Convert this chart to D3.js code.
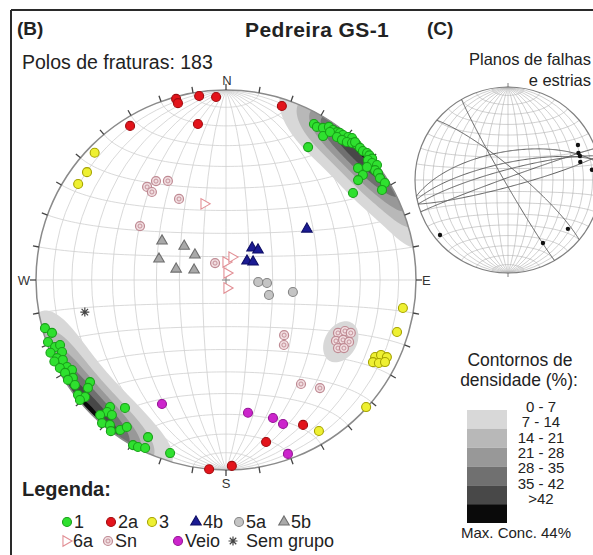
<!DOCTYPE html>
<html>
<head>
<meta charset="utf-8">
<script src="https://cdn.jsdelivr.net/npm/d3@7"></script>
<style>
  html, body { margin: 0; padding: 0; background: #fff; }
  svg { display: block; font-family: "Liberation Sans", Arial, Helvetica, sans-serif; }
</style>
</head>
<body>
<svg id="chart" width="593" height="555"></svg>
<script>
// ---------- Data: poles to fractures, [trend, plunge] in degrees ----------
const poles1 = [
  [29.4,6.4],[30.7,7.0],[32.5,5.7],[33.9,3.3],[35.5,3.4],[36.9,3.0],[37.8,2.4],[38.9,2.2],[40.5,1.2],[41.6,0.1],
  [34.0,9.5],[35.1,5.4],[37.8,5.3],[39.6,4.8],[41.2,3.9],[42.6,2.3],[44.1,1.1],[43.1,0.7],[45.4,1.1],[46.7,1.1],
  [48.0,0.1],[49.0,0.0],[50.3,0.0],[49.8,2.5],[51.3,1.7],[52.7,0.1],[53.6,2.9],[54.9,2.5],[56.5,3.2],[58.6,2.3],
  [60.0,5.8],[49.7,9.8],[52.5,10.1],[52.9,13.9],[51.3,5.5],[31.7,18.9],[55.6,20.1],
  [255.1,1.6],[253.1,4.8],[250.8,0.9],[248.6,3.8],[248.6,6.9],[246.3,6.4],[247.5,0.0],[245.2,2.3],[243.9,4.9],[244.6,0.0],
  [241.3,5.2],[242.1,1.2],[239.7,6.8],[240.0,2.5],[237.4,4.9],[237.7,1.8],[235.2,3.6],[233.1,11.5],[232.0,8.6],[232.2,1.6],
  [230.3,4.1],[230.6,0.6],[222.4,10.4],[218.3,15.3],[222.0,7.2],[223.0,3.2],[220.2,7.7],[220.9,0.4],[218.7,2.6],[217.3,0.0],
  [215.2,3.8],[214.0,7.4],[206.4,8.5],[209.4,0.3],[207.8,0.7],[205.7,2.1],[197.9,4.8]
];
const poles2a = [[344.6,1.3],[344.8,4.0],[351.7,2.4],[356.9,4.0],[17.8,4.3],[328.1,5.0],[349.8,17.7],
  [185.1,0.0],[178.2,2.4],[166.1,13.2],[152.0,14.7]];
const poles3 = [[314.1,4.2],[307.8,8.2],[303.0,8.0],[99.0,6.4],[106.9,6.6],[117.3,12.7],[115.8,10.3],
  [115.6,6.8],[119.2,12.4],[118.5,9.3],[117.3,6.5],[132.2,0.5],[148.4,7.4]];
const poles4b = [[39.1,72.3],[46.8,71.2],[47.9,77.9],[56.3,76.1],[57.8,48.3]];
const poles5a = [[93.6,76.2],[94.2,72.4],[109.2,70.5],[100.2,60.7]];
const poles5b = [[301.4,57.6],[309.0,66.9],[287.4,59.7],[308.9,72.9],[282.4,68.1],[287.4,75.7]];
const poles6a = [[343.9,55.7],[0.0,82.3],[14.6,79.9],[8.0,87.0],[173.0,86.6]];
const polesSn = [[319.7,36.0],[324.7,36.4],[329.6,39.4],[319.9,39.3],[329.9,49.2],[302.1,45.6],[327.1,81.4],
  [133.5,55.3],[138.3,52.2],[144.2,33.0],[139.0,25.6],
  [115.3,35.1],[113.2,32.4],[113.0,29.4],[119.0,34.2],[117.1,31.4],[116.7,28.3],[121.3,31.6],[120.0,29.1]];
const polesVeio = [[207.3,27.4],[170.6,29.9],[161.2,24.3],[158.4,19.6],[160.4,3.2]];
const polesSemGrupo = [[257.2,24.8]];

// Fault planes [dip direction, dip] and striae [trend, plunge]
const faultPlanes = [[240,87],[40,80],[350,65],[348,75],[345,81],[340,88],[165,84]];
const striae = [[63.4,17],[69,20],[71.6,19.6],[76,21],[83,10],[129.2,18],[151,23.5],[231,6.6]];

// Density contour classes (percent)
const densityThresholds = [7, 14, 21, 28, 35, 42];
const densityLabels = ["0 - 7", "7 - 14", "14 - 21", "21 - 28", "28 - 35", "35 - 42", ">42"];
const maxConcentration = 44;

const legendRow1 = ["1", "2a", "3", "4b", "5a", "5b"];
const legendRow2 = ["6a", "Sn", "Veio", "Sem grupo"];

// ---------- Setup ----------
const svg = d3.select("#chart");
const rad = Math.PI / 180;

const groupData = {
  "1": poles1, "2a": poles2a, "3": poles3, "4b": poles4b, "5a": poles5a,
  "5b": poles5b, "6a": poles6a, "Sn": polesSn, "Veio": polesVeio, "Sem grupo": polesSemGrupo
};
const styles = {
  "1":    { shape: "circle", fill: "#2fe02f", stroke: "#19a019" },
  "2a":   { shape: "circle", fill: "#e3141b", stroke: "#a10c10" },
  "3":    { shape: "circle", fill: "#eef032", stroke: "#a6a300" },
  "4b":   { shape: "tri",    fill: "#1b1b93", stroke: "#0e0e66" },
  "5a":   { shape: "circle", fill: "#c4c4c4", stroke: "#858585" },
  "5b":   { shape: "tri",    fill: "#a9a9a9", stroke: "#6f6f6f" },
  "6a":   { shape: "triR",   fill: "#ffffff", stroke: "#e28f95" },
  "Sn":   { shape: "ring",   fill: "#f1dde0", stroke: "#bf8a93" },
  "Veio": { shape: "circle", fill: "#cc25cc", stroke: "#951595" },
  "Sem grupo": { shape: "star", fill: "none", stroke: "#444" }
};

// lower-hemisphere line -> lon/lat on a sphere whose (0,0) is the nadir
function lineToGeo([trend, plunge]) {
  const t = trend * rad, p = plunge * rad;
  const e = Math.cos(p) * Math.sin(t), n = Math.cos(p) * Math.cos(t), d = Math.sin(p);
  return [Math.atan2(e, d) / rad, Math.asin(Math.max(-1, Math.min(1, n))) / rad];
}
function lineToVec([trend, plunge]) {
  const t = trend * rad, p = plunge * rad;
  return [Math.cos(p) * Math.sin(t), Math.cos(p) * Math.cos(t), Math.sin(p)];
}
function geoToVec([lon, lat]) {
  const l = lon * rad, f = lat * rad;
  return [Math.cos(f) * Math.sin(l), Math.sin(f), Math.cos(f) * Math.cos(l)];
}

// ---------- Frame ----------
svg.append("line").attr("x1", 11).attr("x2", 593).attr("y1", 10).attr("y2", 10)
  .attr("stroke", "#2a2a2a").attr("stroke-width", 2);
svg.append("line").attr("x1", 11).attr("x2", 11).attr("y1", 10).attr("y2", 555)
  .attr("stroke", "#2a2a2a").attr("stroke-width", 2);

// ---------- Main Schmidt net ----------
const net = { cx: 226, cy: 280, r: 190 };
const proj = d3.geoAzimuthalEqualArea()
  .scale(net.r / Math.SQRT2).translate([net.cx, net.cy]).clipAngle(90).precision(0.2);
const geoPath = d3.geoPath(proj);

const defs = svg.append("defs");
defs.append("clipPath").attr("id", "netClip")
  .append("circle").attr("cx", net.cx).attr("cy", net.cy).attr("r", net.r);

const graticule = d3.geoGraticule().extent([[-180, -90], [180, 90]]).step([10, 10]);
svg.append("path").datum(graticule())
  .attr("d", geoPath).attr("fill", "none").attr("stroke", "#cfcfcf").attr("stroke-width", 0.8);

// Density grid: axial Fisher kernel on the sphere, scaled to the maximum concentration
const densitySets = [poles1, polesSn];
const sigmaDeg = 10;
const kappa = 1 / Math.pow(sigmaDeg * rad, 2);
const densityVecs = densitySets.flat().map(lineToVec);
const step = 2.5, pad = 14;
const gx0 = net.cx - net.r - pad, gy0 = net.cy - net.r - pad;
const n = Math.ceil(2 * (net.r + pad) / step) + 1;
const grid = new Float64Array(n * n);
for (let j = 0; j < n; j++) {
  for (let i = 0; i < n; i++) {
    const g = proj.invert([gx0 + i * step, gy0 + j * step]);
    let s = 0;
    if (g && isFinite(g[0]) && isFinite(g[1])) {
      const v = geoToVec(g);
      for (const p of densityVecs) {
        const c = Math.abs(v[0] * p[0] + v[1] * p[1] + v[2] * p[2]);
        s += Math.exp(kappa * (c - 1));
      }
    }
    grid[j * n + i] = s;
  }
}
const gridMax = d3.max(grid);
const percent = Array.from(grid, v => v / gridMax * maxConcentration);
const contours = d3.contours().size([n, n]).thresholds(densityThresholds)(percent);
const gridPath = d3.geoPath(d3.geoTransform({
  point(x, y) { this.stream.point(gx0 + (x - 0.5) * step, gy0 + (y - 0.5) * step); }
}));
const bandColor = d3.scaleOrdinal().domain(densityThresholds)
  .range(["#d8d8d8", "#b8b8b8", "#989898", "#707070", "#484848", "#0a0a0a"]);
svg.append("g").attr("clip-path", "url(#netClip)")
  .selectAll("path").data(contours).join("path")
  .attr("d", gridPath).attr("fill", d => bandColor(d.value)).attr("stroke", "none");

// primitive circle and 10-degree ticks
svg.append("circle").attr("cx", net.cx).attr("cy", net.cy).attr("r", net.r)
  .attr("fill", "none").attr("stroke", "#8a8a8a").attr("stroke-width", 1.5);
svg.append("g").selectAll("line").data(d3.range(0, 360, 10)).join("line")
  .attr("x1", a => net.cx + net.r * Math.sin(a * rad))
  .attr("y1", a => net.cy - net.r * Math.cos(a * rad))
  .attr("x2", a => net.cx + (net.r + 6) * Math.sin(a * rad))
  .attr("y2", a => net.cy - (net.r + 6) * Math.cos(a * rad))
  .attr("stroke", "#444").attr("stroke-width", 1.3);

// centre cross
svg.append("path").attr("d", `M${net.cx - 4},${net.cy}H${net.cx + 4}M${net.cx},${net.cy - 4}V${net.cy + 4}`)
  .attr("stroke", "#888").attr("stroke-width", 1);

const cardinal = svg.append("g").attr("font-size", 13).attr("fill", "#333");
cardinal.append("text").attr("x", net.cx + 1).attr("y", net.cy - net.r - 5).attr("text-anchor", "middle").text("N");
cardinal.append("text").attr("x", net.cx).attr("y", net.cy + net.r + 18).attr("text-anchor", "middle").text("S");
cardinal.append("text").attr("x", net.cx - net.r - 6).attr("y", net.cy + 5).attr("text-anchor", "end").text("W");
cardinal.append("text").attr("x", net.cx + net.r + 6).attr("y", net.cy + 5).attr("text-anchor", "start").text("E");

// ---------- Markers ----------
const triSym = d3.symbol().type(d3.symbolTriangle).size(48)();
function drawMarker(g, group, x, y, r = 4.5) {
  const st = styles[group];
  if (st.shape === "circle") {
    g.append("circle").attr("cx", x).attr("cy", y).attr("r", r)
      .attr("fill", st.fill).attr("stroke", st.stroke).attr("stroke-width", 1.1);
  } else if (st.shape === "ring") {
    g.append("circle").attr("cx", x).attr("cy", y).attr("r", r)
      .attr("fill", st.fill).attr("stroke", st.stroke).attr("stroke-width", 1.2);
    g.append("circle").attr("cx", x).attr("cy", y).attr("r", r * 0.45)
      .attr("fill", "none").attr("stroke", st.stroke).attr("stroke-width", 0.9);
  } else if (st.shape === "tri" || st.shape === "triR") {
    g.append("path").attr("d", triSym)
      .attr("transform", `translate(${x},${y})` + (st.shape === "triR" ? " rotate(90)" : ""))
      .attr("fill", st.fill).attr("stroke", st.stroke).attr("stroke-width", 1.1);
  } else if (st.shape === "star") {
    const a = r, b = r * 0.72;
    g.append("path")
      .attr("d", `M${x - a},${y}H${x + a}M${x},${y - a}V${y + a}M${x - b},${y - b}L${x + b},${y + b}M${x - b},${y + b}L${x + b},${y - b}`)
      .attr("stroke", st.stroke).attr("stroke-width", 1.2);
  }
}

const pointLayer = svg.append("g");
["Sn", "5b", "5a", "6a", "4b", "Veio", "Sem grupo", "3", "2a", "1"].forEach(group => {
  groupData[group].forEach(line => {
    const [x, y] = proj(lineToGeo(line));
    drawMarker(pointLayer, group, x, y);
  });
});

// ---------- Titles ----------
svg.append("text").attr("x", 17).attr("y", 35).attr("font-size", 19).attr("font-weight", "bold")
  .attr("fill", "#222").text("(B)");
svg.append("text").attr("x", 245).attr("y", 37).attr("font-size", 21).attr("font-weight", "bold")
  .attr("letter-spacing", 0.4).attr("fill", "#222").text("Pedreira GS-1");
svg.append("text").attr("x", 427).attr("y", 35).attr("font-size", 19).attr("font-weight", "bold")
  .attr("fill", "#222").text("(C)");
svg.append("text").attr("x", 22).attr("y", 69).attr("font-size", 19.5)
  .attr("fill", "#222").text("Polos de fraturas: 183");

// ---------- Fault planes net ----------
const net2 = { cx: 508, cy: 180, r: 93 };
const proj2 = d3.geoAzimuthalEqualArea()
  .scale(net2.r / Math.SQRT2).translate([net2.cx, net2.cy]).clipAngle(90).precision(0.2);
svg.append("path").datum(d3.geoGraticule().extent([[-180, -90], [180, 90]]).step([10, 10])())
  .attr("d", d3.geoPath(proj2)).attr("fill", "none").attr("stroke", "#b0b0b0").attr("stroke-width", 0.6);
svg.append("circle").attr("cx", net2.cx).attr("cy", net2.cy).attr("r", net2.r)
  .attr("fill", "none").attr("stroke", "#808080").attr("stroke-width", 1.2);
svg.append("path").attr("d", `M${net2.cx},${net2.cy - net2.r}v-4M${net2.cx},${net2.cy + net2.r}v4`)
  .attr("stroke", "#808080").attr("stroke-width", 1);

function planeLine([dipDir, dip]) {
  const dd = dipDir * rad, dp = dip * rad, sd = dd - Math.PI / 2;
  const s = [Math.sin(sd), Math.cos(sd), 0];
  const dv = [Math.cos(dp) * Math.sin(dd), Math.cos(dp) * Math.cos(dd), Math.sin(dp)];
  return d3.range(0, 180.5, 1).map(a => {
    const c = Math.cos(a * rad), si = Math.sin(a * rad);
    const e = c * s[0] + si * dv[0], nn = c * s[1] + si * dv[1], d = c * s[2] + si * dv[2];
    return proj2([Math.atan2(e, d) / rad, Math.asin(Math.max(-1, Math.min(1, nn))) / rad]);
  });
}
const line2 = d3.line();
svg.append("g").selectAll("path").data(faultPlanes).join("path")
  .attr("d", d => line2(planeLine(d)))
  .attr("fill", "none").attr("stroke", "#5e5e5e").attr("stroke-width", 1);
svg.append("g").selectAll("circle").data(striae).join("circle")
  .attr("cx", d => proj2(lineToGeo(d))[0]).attr("cy", d => proj2(lineToGeo(d))[1])
  .attr("r", 2.2).attr("fill", "#111");

svg.append("text").attr("x", 591).attr("y", 65).attr("font-size", 16.5).attr("text-anchor", "end")
  .attr("fill", "#222").text("Planos de falhas");
svg.append("text").attr("x", 591).attr("y", 86).attr("font-size", 16.5).attr("text-anchor", "end")
  .attr("fill", "#222").text("e estrias");

// ---------- Density legend ----------
const dl = svg.append("g").attr("fill", "#222");
dl.append("text").attr("x", 520).attr("y", 366).attr("font-size", 17.5).attr("text-anchor", "middle").text("Contornos de");
dl.append("text").attr("x", 519).attr("y", 386).attr("font-size", 17.5).attr("text-anchor", "middle").text("densidade (%):");
const swY = d3.scaleLinear().domain([0, densityThresholds.length]).range([410, 523]);
dl.selectAll("rect").data(densityThresholds).join("rect")
  .attr("x", 467).attr("width", 40)
  .attr("y", (d, i) => swY(i)).attr("height", (d, i) => swY(i + 1) - swY(i))
  .attr("fill", d => bandColor(d));
const labY = d3.scaleLinear().domain([0, densityLabels.length - 1]).range([412, 504]);
dl.selectAll("text.lab").data(densityLabels).join("text").attr("class", "lab")
  .attr("x", 541).attr("y", (d, i) => labY(i)).attr("font-size", 15).attr("text-anchor", "middle").text(d => d);
dl.append("text").attr("x", 516).attr("y", 538).attr("font-size", 15).attr("text-anchor", "middle")
  .text(`Max. Conc. ${maxConcentration}%`);

// ---------- Group legend ----------
const lg = svg.append("g").attr("fill", "#222");
lg.append("text").attr("x", 22).attr("y", 496).attr("font-size", 20).attr("font-weight", "bold").text("Legenda:");
const row1X = [67, 111, 152, 196, 239, 284];
const row2X = [66, 108, 178, 233];
legendRow1.forEach((g, i) => {
  drawMarker(lg, g, row1X[i], 522, 4.5);
  lg.append("text").attr("x", row1X[i] + 7).attr("y", 528).attr("font-size", 18).text(g);
});
legendRow2.forEach((g, i) => {
  drawMarker(lg, g, row2X[i], 541, 4.5);
  lg.append("text").attr("x", row2X[i] + (g === "Sem grupo" ? 13 : 7)).attr("y", 547).attr("font-size", 18).text(g);
});
</script>
</body>
</html>
